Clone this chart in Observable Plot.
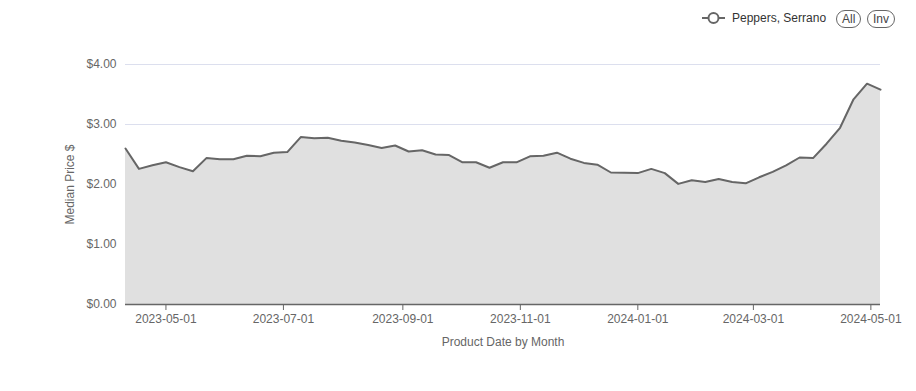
<!DOCTYPE html>
<html>
<head>
<meta charset="utf-8">
<script src="https://cdn.jsdelivr.net/npm/d3@7"></script>
<script src="https://cdn.jsdelivr.net/npm/@observablehq/plot@0.6"></script>
<style>
  html, body { margin: 0; padding: 0; background: #fff; }
  body { width: 916px; height: 391px; overflow: hidden; font-family: "Liberation Sans", Arial, sans-serif; }
  #legend { position: relative; height: 40px; }
  #legend .item { position: absolute; left: 702px; top: 10px; display: flex; align-items: center; font-size: 12px; color: #333; }
  #legend .pill { position: absolute; top: 10px; height: 18px; line-height: 16px; border: 1px solid #666; border-radius: 9px; font-size: 12px; color: #444; padding: 0 5px; box-sizing: border-box; }
  svg text { font-family: "Liberation Sans", Arial, sans-serif; }
</style>
</head>
<body>
<div id="legend">
  <div class="item">
    <svg width="26" height="16" style="margin-right:4px"><line x1="0" y1="8" x2="23" y2="8" stroke="#666" stroke-width="2"/><circle cx="11.5" cy="8" r="5" fill="#fff" stroke="#666" stroke-width="2"/></svg>
    <span>Peppers, Serrano</span>
  </div>
  <div class="pill" style="left:836px;">All</div>
  <div class="pill" style="left:867px;">Inv</div>
</div>
<div id="chart"></div>
<script>
const startDate = "2023-04-10";
const seriesName = "Peppers, Serrano";
const prices = [
  2.60, 2.26, 2.32, 2.37, 2.29, 2.22, 2.44, 2.42, 2.42, 2.48,
  2.47, 2.53, 2.54, 2.79, 2.77, 2.78, 2.73, 2.70, 2.66, 2.61,
  2.65, 2.55, 2.57, 2.50, 2.49, 2.37, 2.37, 2.28, 2.37, 2.37,
  2.47, 2.48, 2.53, 2.43, 2.36, 2.33, 2.20, 2.195, 2.19, 2.26,
  2.19, 2.01, 2.07, 2.04, 2.09, 2.04, 2.02, 2.12, 2.21, 2.32,
  2.45, 2.44, 2.68, 2.945, 3.42, 3.68, 3.58
];
const xTicks = ["2023-05-01", "2023-07-01", "2023-09-01", "2023-11-01", "2024-01-01", "2024-03-01", "2024-05-01"];
const yTicks = [0, 1, 2, 3, 4];

const start = new Date(startDate + "T00:00:00Z");
const data = prices.map((p, i) => ({ date: d3.utcDay.offset(start, i * 7), price: p, name: seriesName }));
const tickDates = xTicks.map(s => new Date(s + "T00:00:00Z"));

const chart = Plot.plot({
  width: 916,
  height: 351,
  marginTop: 24,
  marginBottom: 87,
  marginLeft: 125,
  marginRight: 36,
  style: { fontSize: "12px", color: "#666", background: "#fff" },
  x: { type: "utc", domain: [data[0].date, data[data.length - 1].date] },
  y: { domain: [0, 4] },
  marks: [
    Plot.gridY(yTicks, { stroke: "#dcdfee", strokeOpacity: 1, strokeWidth: 1 }),
    Plot.areaY(data, { x: "date", y: "price", fill: "#e0e0e0" }),
    Plot.lineY(data, { x: "date", y: "price", stroke: "#666", strokeWidth: 2 }),
    Plot.ruleY([0], { stroke: "#666", strokeWidth: 1.5 }),
    Plot.axisY(yTicks, {
      tickSize: 0, tickPadding: 9, tickFormat: d => "$" + d.toFixed(2),
      label: "Median Price $", labelAnchor: "center", labelArrow: "none", labelOffset: 60,
      color: "#666"
    }),
    Plot.axisX(tickDates, {
      tickSize: 6, tickPadding: 4, tickFormat: d3.utcFormat("%Y-%m-%d"),
      label: "Product Date by Month", labelAnchor: "center", labelArrow: "none", labelOffset: 41,
      color: "#666", stroke: "#666"
    })
  ]
});
document.getElementById("chart").appendChild(chart);
</script>
</body>
</html>
